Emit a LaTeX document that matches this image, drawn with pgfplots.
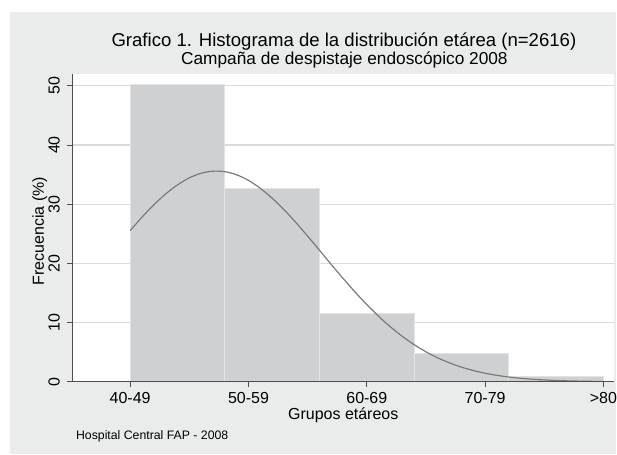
\documentclass[border=0pt]{standalone}
\usepackage{fontspec}
\setmainfont{Liberation Sans}
\usepackage{pgfplots}
\pgfplotsset{compat=1.18}
\definecolor{bg}{HTML}{EAEBEB}
\definecolor{barfill}{HTML}{CFD0D2}
\definecolor{baredge}{HTML}{E2E3E4}
\definecolor{curvec}{HTML}{7A7A7A}
\definecolor{gridc}{HTML}{DADADA}
\definecolor{axisc}{HTML}{4D4D4D}
\begin{document}
\begin{tikzpicture}
\fill[white] (0bp,0bp) rectangle (617bp,455bp);
\fill[bg] (10bp,0bp) rectangle (617bp,443bp);
\begin{axis}[
  at={(72.5bp,72.7bp)}, anchor=south west, scale only axis,
  width=542.5bp, height=308.3bp,
  xmin=35.12, xmax=80.9, ymin=0, ymax=52.02,
  axis background/.style={fill=white},
  axis x line*=bottom, axis y line*=left,
  axis line style={axisc, line width=0.8bp, -},
  tick align=outside, major tick length=5.5bp,
  tick style={axisc, line width=0.8bp},
  xtick={40,50,60,70,80}, xticklabels={40-49,50-59,60-69,70-79,>80},
  ytick={0,10,20,30,40,50},
  minor tick num=0,
  ymajorgrids, grid style={gridc, line width=1.2bp},
  /pgf/number format/assume math mode=true,
  ticklabel style={font=\fontsize{16bp}{19bp}\selectfont, text=black},
  yticklabel style={rotate=90, anchor=south, inner sep=0pt, yshift=7bp},
  xticklabel style={anchor=north, inner sep=0pt, yshift=-5bp},
  xlabel={Grupos etáreos}, ylabel={Frecuencia (\%)},
  label style={font=\fontsize{16bp}{19bp}\selectfont},
  xlabel style={at={(axis description cs:0.5,-0.123)}, anchor=base, inner sep=0pt},
  ylabel style={at={(axis description cs:-0.0525,0.489)}, anchor=base, inner sep=0pt},
  after end axis/.code={\draw[axisc, line width=0.8bp] (rel axis cs:0,0) -- (rel axis cs:1,0);},
]
\addplot[ybar interval, fill=barfill, draw=baredge, line width=1bp]
  coordinates {(40,50.2) (48,32.7) (56,11.5) (64,4.7) (72,0.9) (80,0.9)};
\addplot[curvec, line width=1.2bp, smooth, no marks] coordinates {
(40,25.54) (41,27.80) (42,29.89) (43,31.73) (44,33.26) (45,34.45) (46,35.23)
(47,35.58) (48,35.49) (49,34.97) (50,34.02) (51,32.69) (52,31.02) (53,29.08)
(54,26.92) (55,24.61) (56,22.22) (57,19.81) (58,17.45) (59,15.18) (60,13.04)
(61,11.06) (62,9.27) (63,7.67) (64,6.27) (65,5.06) (66,4.03) (67,3.18)
(68,2.47) (69,1.90) (70,1.44) (71,1.08) (72,0.797) (73,0.582) (74,0.420)
(75,0.299) (76,0.211) (77,0.146) (78,0.100) (79,0.068) (80,0.046)};
\end{axis}
\node[anchor=base, inner sep=0pt, font=\fontsize{18.6bp}{22bp}\selectfont] at (344.4bp,408.3bp) {Grafico 1. Histograma de la distribución etárea (n=2616)};
\node[anchor=base, inner sep=0pt, font=\fontsize{17.3bp}{21bp}\selectfont] at (344.9bp,390.7bp) {Campaña de despistaje endoscópico 2008};
\node[anchor=base west, inner sep=0pt, font=\fontsize{12.3bp}{15bp}\selectfont] at (76bp,15bp) {Hospital Central FAP - 2008};
\end{tikzpicture}
\end{document}
